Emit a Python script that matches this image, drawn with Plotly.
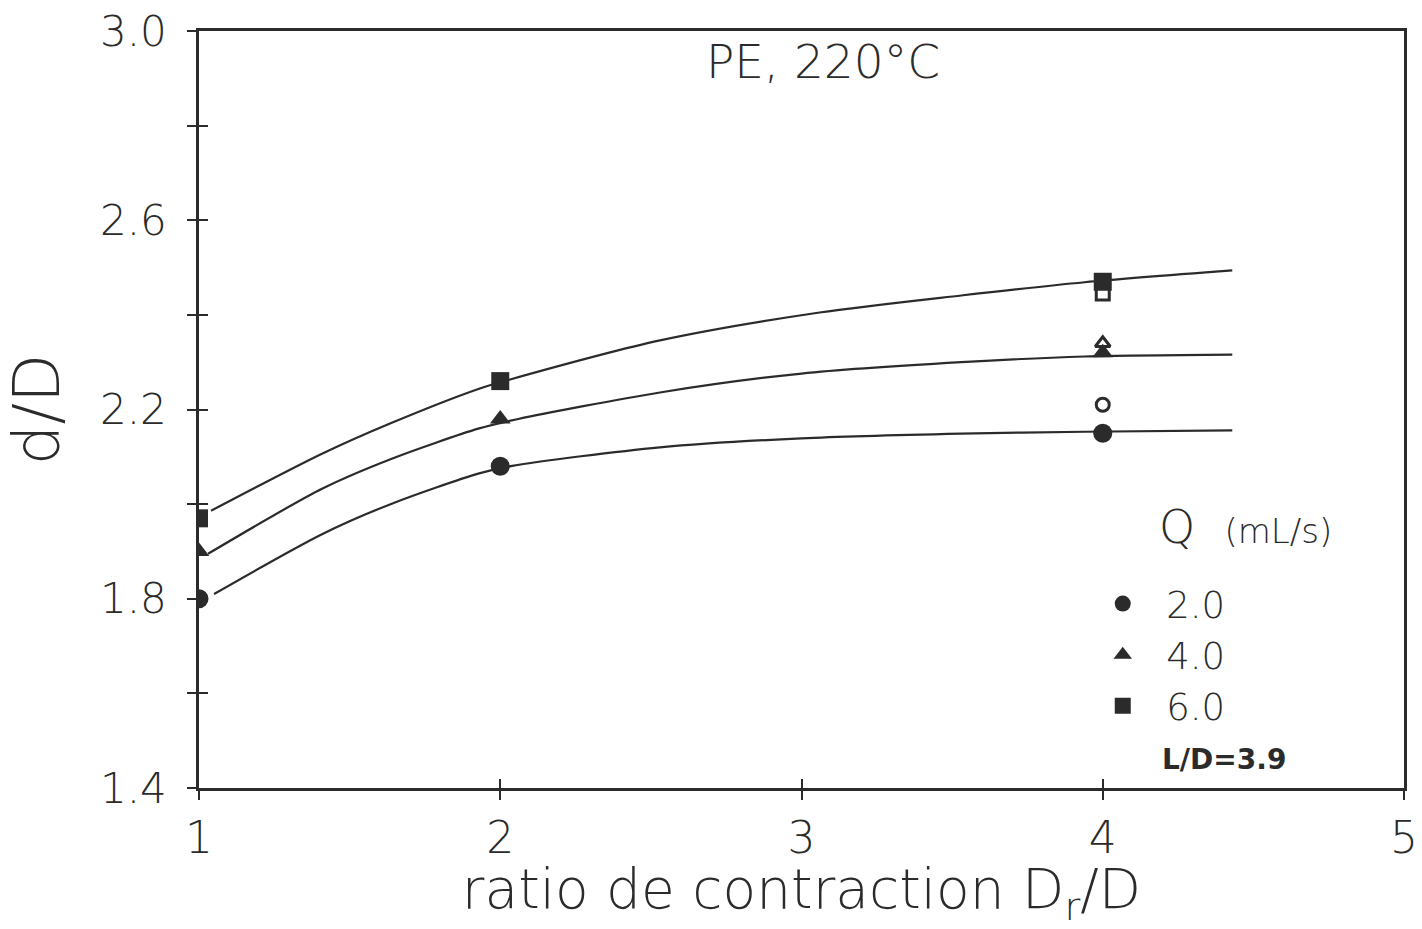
import plotly.graph_objects as go

# Measured swell ratio d/D against contraction ratio Dr/D (PE, 220 °C, L/D = 3.9)
contraction = [1, 2, 4]
swell_q2 = [1.80, 2.08, 2.15]
swell_q4 = [1.90, 2.18, 2.32]
swell_q6 = [1.97, 2.26, 2.47]
flow_labels = ["2.0", "4.0", "6.0"]

# Additional open-symbol measurements at Dr/D = 4
open_x = [4, 4, 4]
open_y = [2.21, 2.34, 2.445]
open_symbols = ["circle-open", "triangle-up-open", "square-open"]

# Smoothed trend curves, one per flow rate
curve_x_q6 = [1.04, 1.41, 1.64, 1.93, 2.03, 2.53, 3.06, 3.53, 3.94, 4.43]
curve_y_q6 = [1.986, 2.107, 2.172, 2.244, 2.263, 2.346, 2.405, 2.441, 2.469, 2.494]
curve_x_q4 = [1.03, 1.41, 1.64, 1.93, 2.06, 2.53, 3.00, 3.53, 3.94, 4.43]
curve_y_q4 = [1.895, 2.033, 2.096, 2.160, 2.180, 2.236, 2.276, 2.300, 2.312, 2.316]
curve_x_q2 = [1.05, 1.41, 1.64, 1.93, 2.04, 2.53, 3.00, 3.53, 3.94, 4.43]
curve_y_q2 = [1.810, 1.937, 2.001, 2.065, 2.081, 2.120, 2.139, 2.149, 2.153, 2.156]

x_ticks = [1, 2, 3, 4, 5]
y_ticks = [1.4, 1.6, 1.8, 2.0, 2.2, 2.4, 2.6, 2.8, 3.0]
y_ticktext = ["1.4", "", "1.8", "", "2.2", "", "2.6", "", "3.0"]

INK = "#2b2b2b"
FONT = "DejaVu Sans"
W = 200
NBSP = "\u00a0"

fig = go.Figure()

for cx, cy in [(curve_x_q6, curve_y_q6), (curve_x_q4, curve_y_q4), (curve_x_q2, curve_y_q2)]:
    fig.add_trace(go.Scatter(
        x=cx, y=cy, mode="lines", line=dict(color=INK, width=2.2, shape="spline", smoothing=0.8),
        showlegend=False, hoverinfo="skip"))

for ys, sym, lab, size in [(swell_q2, "circle", flow_labels[0], 19),
                           (swell_q4, "triangle-up", flow_labels[1], 18),
                           (swell_q6, "square", flow_labels[2], 18)]:
    fig.add_trace(go.Scatter(
        x=contraction, y=ys, mode="markers",
        marker=dict(symbol=sym, size=size, color=INK, line=dict(width=0)),
        name=NBSP * 2 + lab, legendgroup=lab))

fig.add_trace(go.Scatter(
    x=open_x, y=open_y, mode="markers", xaxis="x2", yaxis="y2",
    marker=dict(symbol=open_symbols, size=13, color=INK, line=dict(width=3, color=INK)),
    showlegend=False))

axis_common = dict(showgrid=False, zeroline=False, linecolor=INK, linewidth=2.5,
                   tickcolor=INK, tickwidth=2.2, ticklen=9, automargin=False)

fig.update_layout(
    width=1422, height=929,
    paper_bgcolor="white", plot_bgcolor="white",
    margin=dict(l=199, r=18, t=31, b=141),
    font=dict(family=FONT, color=INK, size=42, weight=W),
    xaxis=dict(range=[1, 5], tickvals=x_ticks, ticks="outside", mirror=True, showline=True,
               ticklabelstandoff=0, tickfont=dict(size=44, weight=W),
               title=dict(text="ratio de contraction D<sub>r</sub>/D",
                          font=dict(size=55, weight=W), standoff=23),
               **axis_common),
    yaxis=dict(range=[1.4, 3.0], tickvals=y_ticks, ticktext=y_ticktext, ticks="outside",
               mirror=True, showline=True, ticklabelstandoff=12, tickfont=dict(size=42, weight=W),
               title=dict(text="d/D", font=dict(size=64, weight=W), standoff=34),
               **axis_common),
    xaxis2=dict(range=[1, 5], overlaying="x", tickvals=x_ticks, ticks="inside",
                showticklabels=False, showline=False, showgrid=False, zeroline=False,
                tickcolor=INK, tickwidth=2.2, ticklen=9, side="bottom", automargin=False),
    yaxis2=dict(range=[1.4, 3.0], overlaying="y", tickvals=y_ticks, ticks="inside",
                showticklabels=False, showline=False, showgrid=False, zeroline=False,
                tickcolor=INK, tickwidth=2.2, ticklen=9, side="left", automargin=False),
    legend=dict(
        x=0.75, y=0.284, xanchor="left", yanchor="top",
        bgcolor="rgba(0,0,0,0)", font=dict(size=37, color=INK, weight=W),
        itemsizing="trace", tracegroupgap=0),
    annotations=[
        dict(text="PE, 220°C", xref="paper", yref="paper", x=0.518, y=0.96,
             xanchor="center", yanchor="middle", showarrow=False, font=dict(size=47, weight=W)),
        dict(text="Q" + NBSP * 2 + "<span style='font-size:34px'>(mL/s)</span>",
             xref="paper", yref="paper", x=0.795, y=0.345,
             xanchor="left", yanchor="middle", showarrow=False, font=dict(size=46, weight=W)),
        dict(text="<b>L/D=3.9</b>", xref="paper", yref="paper", x=0.7975, y=0.037,
             xanchor="left", yanchor="middle", showarrow=False, font=dict(size=28, weight=600)),
    ],
)

fig.write_html("out.html")
